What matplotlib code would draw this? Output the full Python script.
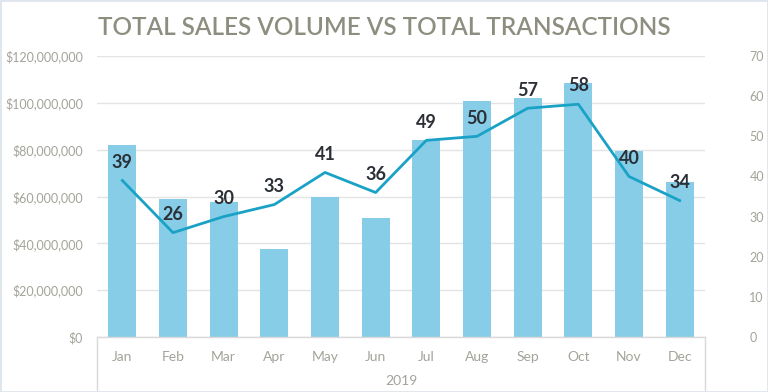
import numpy as np
import matplotlib
matplotlib.use("Agg")
from matplotlib import pyplot
from matplotlib.patches import Rectangle
from matplotlib.ticker import FuncFormatter

months = ["Jan", "Feb", "Mar", "Apr", "May", "Jun", "Jul", "Aug", "Sep", "Oct", "Nov", "Dec"]
sales_volume = [82.0e6, 59.0e6, 57.6e6, 37.6e6, 59.8e6, 50.8e6,
                84.1e6, 100.9e6, 101.9e6, 108.3e6, 79.4e6, 66.2e6]
transactions = [39, 26, 30, 33, 41, 36, 49, 50, 57, 58, 40, 34]
year_label = "2019"

bar_color = "#87cde8"
line_color = "#1aa2c6"
tick_color = "#a3a39a"
title_color = "#8e8e80"

pyplot.rcParams["font.family"] = ["Lato", "DejaVu Sans"]

fig = pyplot.figure(figsize=(7.68, 3.92), dpi=100)
ax = fig.add_axes([0.1263, 0.1403, 0.7917, 0.7167])
ax2 = ax.twinx()

x = np.arange(len(months))
ax.bar(x, sales_volume, width=0.55, color=bar_color, zorder=2)
ax.set_xlim(-0.5, len(months) - 0.5)
ax.set_ylim(0, 120e6)
ax.set_yticks(np.arange(0, 120e6 + 1, 20e6))
ax.yaxis.set_major_formatter(FuncFormatter(lambda v, p: f"${v:,.0f}"))
ax.grid(axis="y", color="#e4e4e4", linewidth=1, zorder=0)
ax.set_axisbelow(True)

ax2.plot(x, transactions, color=line_color, linewidth=2, zorder=3)
ax2.set_ylim(0, 70)
ax2.set_yticks(range(0, 71, 10))
for xi, t in zip(x, transactions):
    ax2.annotate(str(t), (xi, t), xytext=(0, 7), textcoords="offset points",
                 ha="center", va="bottom", fontsize=13, fontweight="bold", color="#2b2f36")

for a in (ax, ax2):
    for s in a.spines.values():
        s.set_visible(False)
    a.tick_params(axis="both", length=0, colors=tick_color, labelsize=9)

ax.set_xticks(x)
ax.set_xticklabels(months)
ax.tick_params(axis="x", pad=10, labelsize=10)
ax.tick_params(axis="y", pad=10)
ax2.tick_params(axis="y", pad=32, labelsize=9)

# category box under the plot
box_kw = dict(transform=ax.transAxes, clip_on=False, color="#d9d9d9", linewidth=1)
ax.plot([0, 1], [0, 0], **box_kw)
ax.plot([0, 0], [0, -0.19], **box_kw)
ax.plot([1, 1], [0, -0.19], **box_kw)
ax.text(0.5, -0.155, year_label, transform=ax.transAxes, ha="center", va="center",
        fontsize=10, color=tick_color)

fig.text(0.5, 0.93, "TOTAL SALES VOLUME VS TOTAL TRANSACTIONS", ha="center", va="center",
         fontsize=17.5, fontweight="semibold", color=title_color)

fig.patches.append(Rectangle((0, 0), 1, 1, transform=fig.transFigure, fill=False,
                             edgecolor="#dfe5ec", linewidth=2))

fig.savefig("out.png", dpi=100)
